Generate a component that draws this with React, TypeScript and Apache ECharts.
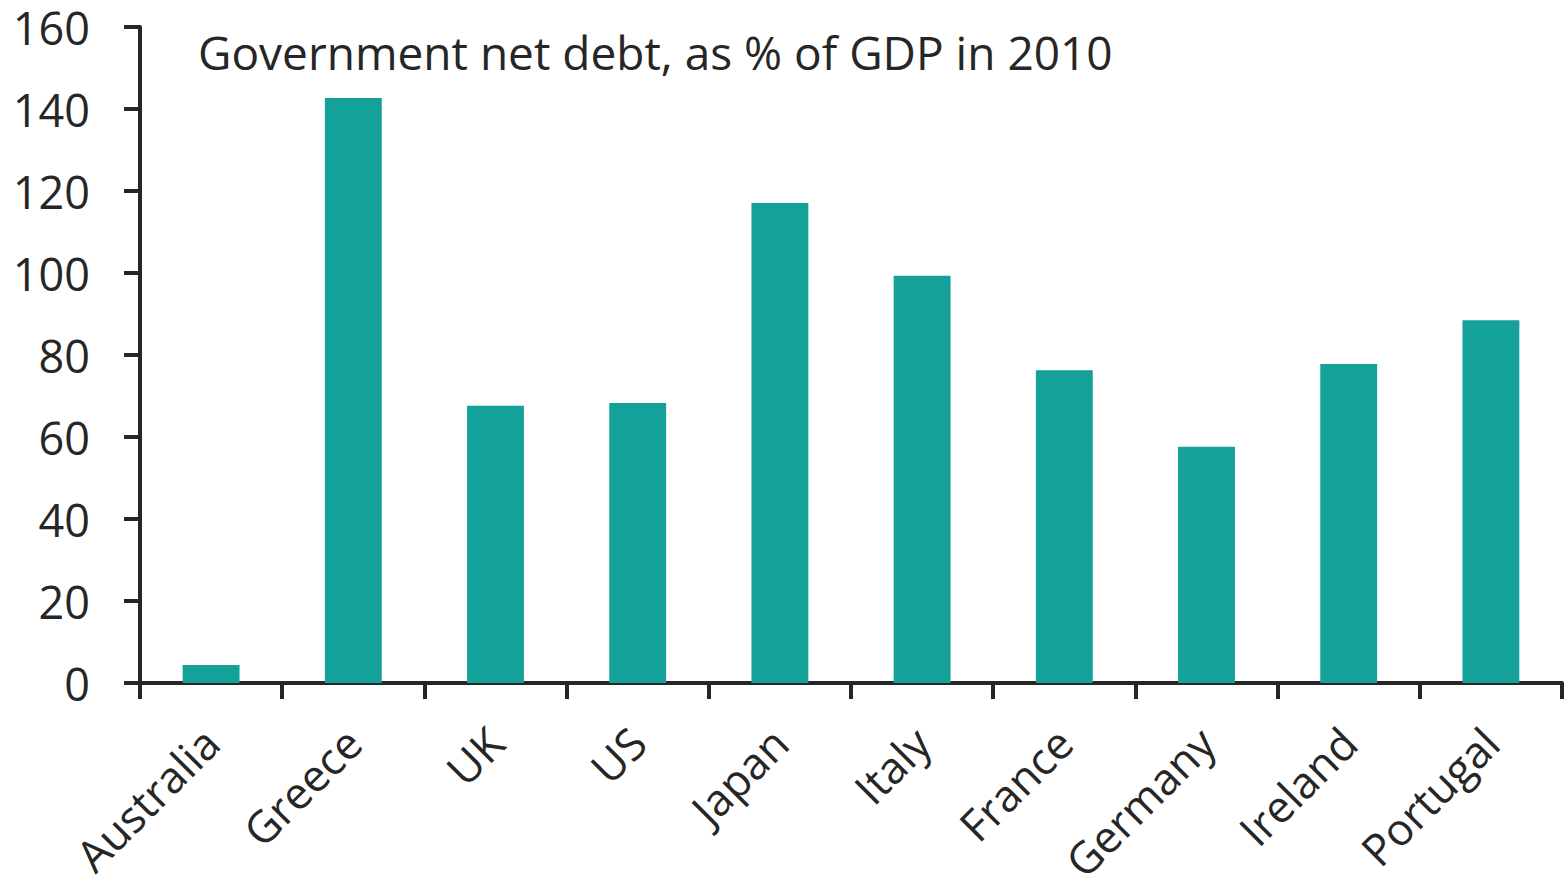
import React, { useEffect, useRef } from "react";
import * as echarts from "echarts";

const categories = ["Australia", "Greece", "UK", "US", "Japan", "Italy", "France", "Germany", "Ireland", "Portugal"];
const netDebt = [4.4, 142.7, 67.6, 68.3, 117.1, 99.3, 76.3, 57.6, 77.8, 88.5];
const titleText = "Government net debt, as % of GDP in 2010";

const TEXT = "#262626";
const BAR = "#13A19A";
const FONT = "'Open Sans', sans-serif";

export default function App() {
  const ref = useRef<HTMLDivElement>(null);
  useEffect(() => {
    if (!ref.current) return;
    const chart = echarts.init(ref.current, undefined, { renderer: "svg" });
    chart.setOption({
      animation: false,
      backgroundColor: "#ffffff",
      title: {
        text: titleText,
        left: 193,
        top: 24,
        textStyle: { fontFamily: FONT, fontSize: 46, fontWeight: "normal", color: TEXT },
      },
      grid: { left: 140, right: 2, top: 27, bottom: 202, containLabel: false, outerBoundsMode: "none" },
      xAxis: {
        type: "category",
        data: categories,
        boundaryGap: true,
        axisLine: { show: true, lineStyle: { color: TEXT, width: 4 } },
        axisTick: { show: true, interval: 0, length: 16, lineStyle: { color: TEXT, width: 4 } },
        axisLabel: {
          interval: 0,
          rotate: 45,
          margin: 52,
          fontFamily: FONT,
          fontSize: 44,
          lineHeight: 40,
          color: TEXT,
        },
      },
      yAxis: {
        type: "value",
        min: 0,
        max: 160,
        interval: 20,
        splitLine: { show: false },
        axisLine: { show: true, lineStyle: { color: TEXT, width: 4 } },
        axisTick: { show: true, length: 16, lineStyle: { color: TEXT, width: 4 } },
        axisLabel: { margin: 50, fontFamily: FONT, fontSize: 45, lineHeight: 40, color: TEXT },
      },
      series: [
        {
          type: "bar",
          data: netDebt,
          barWidth: "40%",
          itemStyle: { color: BAR },
        },
      ],
    });
    return () => chart.dispose();
  }, []);
  return (
    <div
      ref={ref}
      style={{ position: "absolute", left: 0, top: 0, width: 1564, height: 885 }}
    />
  );
}
